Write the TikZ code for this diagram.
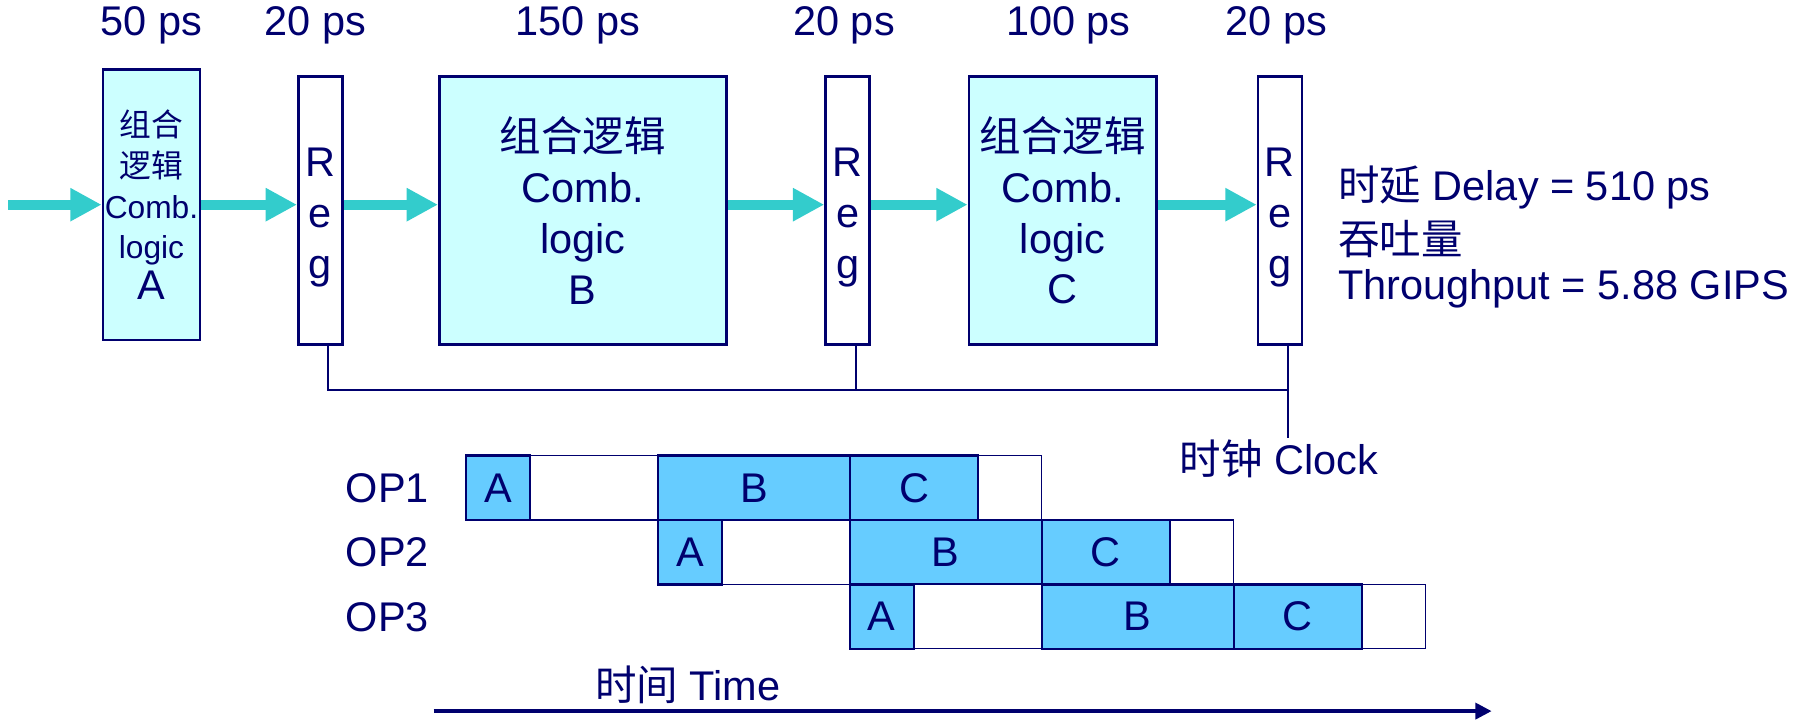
\documentclass[tikz,border=0pt]{standalone}
\usepackage{fontspec}
\setmainfont{Liberation Sans}
\newfontfamily\cjk{Noto Sans CJK SC}
\usetikzlibrary{arrows.meta}
\definecolor{navy}{RGB}{0,0,110}
\definecolor{combfill}{RGB}{204,255,255}
\definecolor{cellfill}{RGB}{102,204,255}
\definecolor{flowteal}{RGB}{51,204,204}

\begin{document}
\begin{tikzpicture}[x=0.01cm, y=-0.01cm, every node/.style={text=navy, font=\fontsize{10.2}{12.5}\selectfont},
  comb/.style={draw=navy, line width=0.65pt, fill=combfill, inner sep=0pt, align=center},
  reg/.style={draw=navy, line width=0.65pt, fill=white, inner sep=0pt, minimum width=0.38cm, minimum height=2.32cm,
    label={[align=center, yshift=-0.06cm, font=\fontsize{10.2}{12.6}\selectfont]center:R\\e\\g}},
  flow/.style={draw=flowteal, line width=2.4pt, -{Triangle[length=2.7mm, width=2.7mm]}},
  clock/.style={draw=navy, line width=0.45pt},
  slot/.style={draw=navy, line width=0.3pt, fill=white},
  busy/.style={draw=navy, line width=0.6pt, fill=cellfill}]
\useasboundingbox (0,0) rectangle (1568,623);

% pipeline stages
\node[comb, minimum width=0.84cm, minimum height=2.34cm, font=\fontsize{7.8}{10}\selectfont] (A) at (131,177) {{\cjk 组合}\\{\cjk 逻辑}\\Comb.\\logic\\{\fontsize{10.2}{12}\selectfont A}};
\node[reg] (R1) at (277,182) {};
\node[comb, minimum width=2.48cm, minimum height=2.32cm] (B) at (504,182) {{\cjk 组合逻辑}\\Comb.\\logic\\B};
\node[reg] (R2) at (733,182) {};
\node[comb, minimum width=1.62cm, minimum height=2.32cm] (C) at (919,182) {{\cjk 组合逻辑}\\Comb.\\logic\\C};
\node[reg] (R3) at (1107,182) {};

\node (dA) at (131,22) {50 ps};
\node (d1) at (273,22) {20 ps};
\node (dB) at (500,22) {150 ps};
\node (d2) at (730,22) {20 ps};
\node (dC) at (924,22) {100 ps};
\node (d3) at (1104,22) {20 ps};

\coordinate (in) at (7,177);
\draw[flow] (in) -- (A.west |- in);
\draw[flow] (A.east |- in) -- (R1.west |- in);
\draw[flow] (R1.east |- in) -- (B.west |- in);
\draw[flow] (B.east |- in) -- (R2.west |- in);
\draw[flow] (R2.east |- in) -- (C.west |- in);
\draw[flow] (C.east |- in) -- (R3.west |- in);

\node[anchor=west] (delay) at (1145,162) {{\cjk 时延} Delay = 510 ps};
\node[anchor=west] (tput) at (1145,207) {\cjk 吞吐量};
\node[anchor=west] (tput2) at (1145,250) {Throughput = 5.88 GIPS};

% clock
\node (clk) at (1106,397) {{\cjk 时钟} Clock};
\coordinate (bus) at (0,337);
\coordinate (k1) at ([xshift=0.7mm]R1.south);
\coordinate (k2) at ([xshift=0.7mm]R2.south);
\coordinate (k3) at ([xshift=0.7mm]R3.south);
\draw[clock] (k1) |- (bus -| k3);
\draw[clock] (k2) -- (k2 |- bus);
\draw[clock] (k3) -- (k3 |- 0,379);

% timing
\foreach \r/\s in {1/403, 2/569, 3/735} {
  \pgfmathsetmacro{\top}{394+(\r-1)*55.7}
  \pgfmathsetmacro{\bot}{\top+55.7}
  \draw[slot] (\s,\top) rectangle (\s+498,\bot);
  \draw[busy] (\s,\top) rectangle (\s+55.3,\bot) node[pos=.5] (a\r) {A};
  \draw[busy] (\s+166,\top) rectangle (\s+332,\bot) node[pos=.5] (b\r) {B};
  \draw[busy] (\s+332,\top) rectangle (\s+443,\bot) node[pos=.5] (c\r) {C};
  \node (op\r) at (335,\top+28) {OP\r};
}

\coordinate (t0) at (375,615);
\coordinate (t1) at (1290,615);
\draw[navy, line width=0.8pt, -{Triangle[length=1.4mm, width=1.4mm]}] (t0) -- (t1);
\node (time) at (595,592) {{\cjk 时间} Time};
\end{tikzpicture}
\end{document}
